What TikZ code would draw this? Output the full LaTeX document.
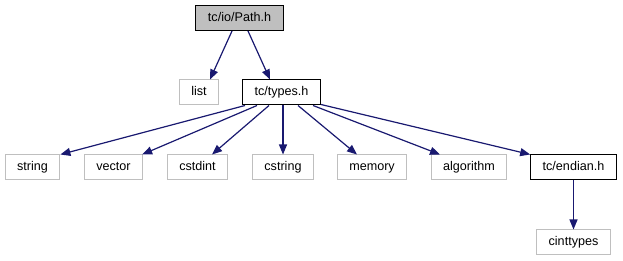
\documentclass[tikz,border=0pt]{standalone}
\usepackage{fontspec}
\setmainfont{Liberation Sans}
\usetikzlibrary{arrows.meta}
\definecolor{edgeblue}{HTML}{191970}
\definecolor{grayline}{HTML}{BFBFBF}
\begin{document}
\begin{tikzpicture}[x=1pt,y=-1pt,
  file/.style={draw, line width=1pt, inner xsep=12pt, inner ysep=0pt,
    minimum height=25pt, font=\fontsize{12.6}{14}\selectfont,
    text height=9.5pt, text depth=2.7pt},
  ext/.style={file, draw=grayline},
  own/.style={file, draw=black},
  dep/.style={edgeblue, line width=1.2pt, -{Triangle[length=10pt,width=8pt]}}]
\useasboundingbox (0,0) rectangle (623,261);

% header and its direct includes
\node[own, fill=grayline] (path) at (239.5,18) {tc/io/Path.h};
\node[ext] (list)  at (199,92.5)   {list};
\node[own] (types) at (281.5,92.5) {tc/types.h};

% includes of tc/types.h
\node[ext] (string)    at (32.5,167.5)  {string};
\node[ext] (vector)    at (113.5,167.5) {vector};
\node[ext] (cstdint)   at (197.5,167.5) {cstdint};
\node[ext] (cstring)   at (283,167.5)   {cstring};
\node[ext] (memory)    at (372,167.5)   {memory};
\node[ext] (algorithm) at (469,167.5)   {algorithm};
\node[own] (endian)    at (573.5,167.5) {tc/endian.h};

% include of tc/endian.h
\node[ext] (cinttypes) at (573.5,242.5) {cinttypes};

\draw[dep] ([xshift=-7.5pt]path.south) -- ([xshift=11pt]list.north);
\draw[dep] ([xshift=8.5pt]path.south) -- ([xshift=-11.5pt]types.north);

\draw[dep] ([xshift=-36.5pt]types.south) -- (string.north east);
\draw[dep] ([xshift=-24.5pt]types.south) -- ([xshift=-1pt]vector.north east);
\draw[dep] ([xshift=-12.5pt]types.south) -- ([xshift=14.5pt]cstdint.north);
\draw[dep] ([xshift=1.5pt]types.south) -- (cstring.north);
\draw[dep] ([xshift=16.5pt]types.south) -- ([xshift=-15pt]memory.north);
\draw[dep] ([xshift=31.5pt]types.south) -- ([xshift=-29pt]algorithm.north);
\draw[dep] ([yshift=1pt]types.south east) -- (endian.north west);

\draw[dep] (endian.south) -- (cinttypes.north);
\end{tikzpicture}
\end{document}
